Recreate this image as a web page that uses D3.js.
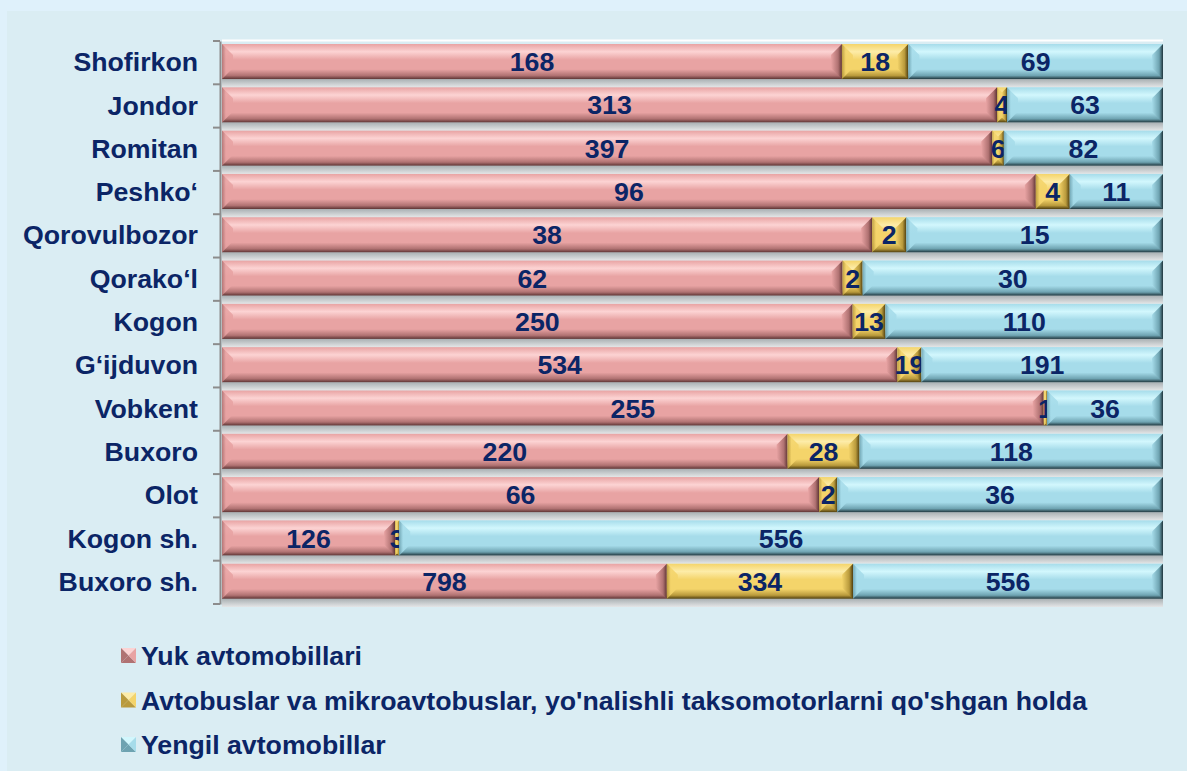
<!DOCTYPE html>
<html>
<head>
<meta charset="utf-8">
<script src="https://cdnjs.cloudflare.com/ajax/libs/d3/7.8.5/d3.min.js"></script>
<style>
  body { margin: 0; background: #dff1fb; }
  text { font-family: "Liberation Sans", Arial, sans-serif; font-weight: bold; fill: #0b2566; }
</style>
</head>
<body>
<div id="chart"></div>
<script>
// chart data, top to bottom
var categories = ["Shofirkon", "Jondor", "Romitan", "Peshko‘", "Qorovulbozor", "Qorako‘l",
  "Kogon", "G‘ijduvon", "Vobkent", "Buxoro", "Olot", "Kogon sh.", "Buxoro sh."];
var yuk     = [168, 313, 397, 96, 38, 62, 250, 534, 255, 220, 66, 126, 798];
var avtobus = [18, 4, 6, 4, 2, 2, 13, 19, 1, 28, 2, 3, 334];
var yengil  = [69, 63, 82, 11, 15, 30, 110, 191, 36, 118, 36, 556, 556];
var seriesNames = ["Yuk avtomobillari",
  "Avtobuslar va mikroavtobuslar, yo'nalishli taksomotorlarni qo'shgan holda",
  "Yengil avtomobillar"];
var keys = ["yuk", "avtobus", "yengil"];

var svgWidth = 1187;
var svgHeight = 771;
var fontSize = "26.7px";

// plot area
var plot = { left: 222, right: 1163, top: 41, bottom: 604 };

var palette = {
  yuk:     { base: "#e8a3a3", light: "#fcd3d3", dark: "#b07272", edge: "#5e3434" },
  avtobus: { base: "#f4d46a", light: "#fdeca8", dark: "#b99a3c", edge: "#4e3d0e" },
  yengil:  { base: "#a6dcea", light: "#d2f7fd", dark: "#6ea3b1", edge: "#1f363d" }
};

var svg = d3.select("#chart")
  .append("svg")
  .attr("width", svgWidth)
  .attr("height", svgHeight);

// inner panel
svg.append("rect")
  .attr("x", 7).attr("y", 11)
  .attr("width", svgWidth - 7).attr("height", svgHeight - 11)
  .attr("fill", "#daedf3");

var defs = svg.append("defs");

keys.forEach(function(k) {
  var c = palette[k];
  var g = defs.append("linearGradient")
    .attr("id", "grad-" + k)
    .attr("x1", 0).attr("y1", 0).attr("x2", 0).attr("y2", 1);
  g.append("stop").attr("offset", "0%").attr("stop-color", c.base);
  g.append("stop").attr("offset", "22%").attr("stop-color", c.light);
  g.append("stop").attr("offset", "45%").attr("stop-color", c.base);
  g.append("stop").attr("offset", "72%").attr("stop-color", c.base);
  g.append("stop").attr("offset", "90%").attr("stop-color", c.dark);
  g.append("stop").attr("offset", "100%").attr("stop-color", c.edge);

  var r = defs.append("linearGradient")
    .attr("id", "right-" + k)
    .attr("x1", 0).attr("y1", 0).attr("x2", 1).attr("y2", 0);
  r.append("stop").attr("offset", "0%").attr("stop-color", c.base);
  r.append("stop").attr("offset", "65%").attr("stop-color", c.dark);
  r.append("stop").attr("offset", "100%").attr("stop-color", c.edge);

  var l = defs.append("linearGradient")
    .attr("id", "left-" + k)
    .attr("x1", 0).attr("y1", 0).attr("x2", 1).attr("y2", 0);
  l.append("stop").attr("offset", "0%").attr("stop-color", c.dark);
  l.append("stop").attr("offset", "35%").attr("stop-color", c.base);
  l.append("stop").attr("offset", "100%").attr("stop-color", c.base);
});

var shadowGrad = defs.append("linearGradient")
  .attr("id", "shadow")
  .attr("x1", 0).attr("y1", 0).attr("x2", 0).attr("y2", 1);
shadowGrad.append("stop").attr("offset", "0%").attr("stop-color", "#a9b0b3");
shadowGrad.append("stop").attr("offset", "100%").attr("stop-color", "#e4e6e7");

// build rows for the stack
var rows = categories.map(function(c, i) {
  return { cat: c, yuk: yuk[i], avtobus: avtobus[i], yengil: yengil[i] };
});

var stacked = d3.stack()
  .keys(keys)
  .offset(d3.stackOffsetExpand)(rows);

var x = d3.scaleLinear()
  .domain([0, 1])
  .range([plot.left, plot.right]);

var y = d3.scaleBand()
  .domain(categories)
  .range([plot.top, plot.bottom]);

var barOffset = 3;
var barHeight = y.bandwidth() * 0.81;

// top white line of the plot area
svg.append("line")
  .attr("x1", plot.left).attr("x2", plot.right)
  .attr("y1", plot.top - 0.5).attr("y2", plot.top - 0.5)
  .attr("stroke", "#ffffff").attr("stroke-width", 2);

// shadows between bars
svg.append("g").selectAll("rect")
  .data(categories)
  .enter()
  .append("rect")
  .attr("x", plot.left)
  .attr("y", d => y(d) + barOffset + barHeight)
  .attr("width", plot.right - plot.left)
  .attr("height", y.bandwidth() - barHeight)
  .attr("fill", "url(#shadow)");

// bars
stacked.forEach(function(layer) {
  var k = layer.key;
  var seg = svg.append("g").selectAll("g")
    .data(layer)
    .enter()
    .append("g");

  seg.each(function(d) {
    var g = d3.select(this);
    var x0 = x(d[0]), x1 = x(d[1]);
    var y0 = y(d.data.cat) + barOffset, y1 = y0 + barHeight;
    var w = x1 - x0;
    var b = Math.min(11, w / 2, barHeight / 2);

    g.append("rect")
      .attr("x", x0).attr("y", y0)
      .attr("width", w).attr("height", barHeight)
      .attr("fill", "url(#grad-" + k + ")");

    // left bevel
    g.append("polygon")
      .attr("points", [[x0, y0], [x0 + b, y0 + b], [x0 + b, y1 - b], [x0, y1]].join(" "))
      .attr("fill", "url(#left-" + k + ")")
      .attr("opacity", 0.9);

    // right bevel
    g.append("polygon")
      .attr("points", [[x1, y0], [x1 - b, y0 + b], [x1 - b, y1 - b], [x1, y1]].join(" "))
      .attr("fill", "url(#right-" + k + ")");
  });

  // data labels
  svg.append("g").selectAll("text")
    .data(layer)
    .enter()
    .append("text")
    .attr("x", d => (x(d[0]) + x(d[1])) / 2)
    .attr("y", d => y(d.data.cat) + barOffset + barHeight / 2)
    .attr("dy", "0.36em")
    .attr("text-anchor", "middle")
    .attr("font-size", fontSize)
    .text(d => d.data[k]);
});

// y axis
var leftAxis = d3.axisLeft(y).tickSize(0).tickPadding(22);
var axisG = svg.append("g")
  .attr("transform", `translate(${plot.left - 2}, 0)`)
  .call(leftAxis);
axisG.select(".domain").attr("stroke", "#8c8c8c").attr("stroke-width", 2);
axisG.selectAll("text")
  .attr("font-size", fontSize)
  .attr("font-family", "Liberation Sans, Arial, sans-serif")
  .attr("font-weight", "bold")
  .attr("fill", "#0b2566");

// band boundary ticks
var boundaries = categories.map(c => y(c)).concat([plot.bottom]);
svg.append("g").selectAll("line")
  .data(boundaries)
  .enter()
  .append("line")
  .attr("x1", plot.left - 9).attr("x2", plot.left - 2)
  .attr("y1", d => d).attr("y2", d => d)
  .attr("stroke", "#8c8c8c").attr("stroke-width", 2);

// legend
var legend = svg.append("g").selectAll("g")
  .data(keys)
  .enter()
  .append("g")
  .attr("transform", (d, i) => `translate(121, ${648 + i * 44.5})`);

legend.each(function(k) {
  var g = d3.select(this);
  var c = palette[k];
  var s = 15, h = s / 2;
  g.append("polygon").attr("points", [[0, 0], [s, 0], [h, h]].join(" ")).attr("fill", c.light);
  g.append("polygon").attr("points", [[0, s], [s, s], [h, h]].join(" ")).attr("fill", c.dark);
  g.append("polygon").attr("points", [[0, 0], [0, s], [h, h]].join(" ")).attr("fill", c.dark);
  g.append("polygon").attr("points", [[s, 0], [s, s], [h, h]].join(" ")).attr("fill", c.base);
});

legend.append("text")
  .attr("x", 20)
  .attr("y", 7.5)
  .attr("dy", "0.36em")
  .attr("font-size", fontSize)
  .text((d, i) => seriesNames[i]);
</script>
</body>
</html>
